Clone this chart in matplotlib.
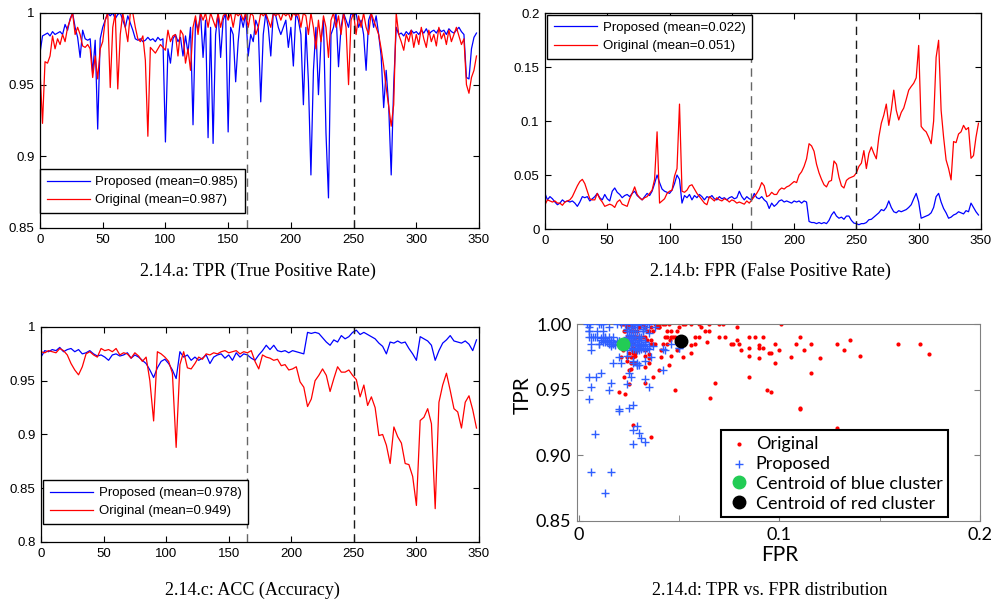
import numpy as np
import matplotlib
matplotlib.use('Agg')
from matplotlib import pyplot as plt
from matplotlib.ticker import FuncFormatter, MultipleLocator

# Frame index of the samples (every 2nd frame for TPR/FPR, every 3rd for ACC)
frames2 = np.arange(0, 349, 2)
frames3 = np.arange(0, 349, 3)

# 2.14.a  TPR
tpr_prop = [0.972, 0.984, 0.985, 0.986, 0.984, 0.987, 0.985, 0.986, 0.987, 0.985,
            0.992, 0.988, 0.996, 1.0, 0.99, 0.983, 0.969, 0.988, 0.982, 0.981,
            0.982, 0.958, 0.981, 0.919, 0.982, 0.99, 0.995, 1.0, 0.998, 1.0,
            0.996, 0.999, 1.0, 0.995, 0.99, 0.998, 0.993, 0.988, 0.982, 0.981,
            0.982, 0.98, 0.981, 0.983, 0.981, 0.982, 0.98, 0.983, 0.981, 0.982,
            0.91, 0.975, 0.965, 0.982, 0.985, 0.98, 0.983, 0.97, 0.984, 0.972,
            0.99, 0.922, 0.995, 0.988, 1.0, 0.969, 0.995, 0.913, 0.99, 0.909,
            0.985, 1.0, 0.969, 0.995, 1.0, 0.917, 0.99, 0.985, 0.952, 0.98,
            0.998, 0.99, 1.0, 0.97, 0.985, 0.98, 0.995, 0.99, 0.938, 0.985,
            1.0, 0.99, 0.97, 1.0, 0.998, 0.99, 0.985, 0.99, 0.995, 0.976,
            0.99, 0.963, 1.0, 0.995, 0.985, 0.936, 0.99, 0.952, 0.887, 0.96,
            0.99, 0.943, 0.98, 0.995, 0.9165, 0.871, 0.985, 0.99, 1.0, 0.9625,
            0.99, 1.0, 0.995, 0.99, 1.0, 0.998, 1.0, 0.99, 0.995, 0.985,
            0.96, 0.995, 1.0, 0.99, 0.998, 0.985, 0.97, 0.934, 0.96, 0.935,
            0.887, 0.95, 0.99, 0.985, 0.986, 0.984, 0.987, 0.985, 0.988, 0.986,
            0.987, 0.985, 0.988, 0.986, 0.989, 0.985, 0.987, 0.988, 0.986, 0.989,
            0.987, 0.988, 0.985, 0.989, 0.987, 0.986, 0.988, 0.99, 0.987, 0.985,
            0.955, 0.954, 0.975, 0.983, 0.986]
tpr_orig = [0.96, 0.923, 0.966, 0.965, 0.97, 0.984, 0.975, 0.982, 0.978, 0.985,
            0.98, 0.99, 0.995, 1.0, 0.985, 0.99, 0.985, 0.977, 0.976, 0.978,
            0.975, 0.955, 0.97, 0.954, 0.975, 0.98, 0.995, 1.0, 0.948, 0.99,
            1.0, 0.947, 0.985, 1.0, 0.99, 0.98, 1.0, 1.0, 0.99, 0.982,
            0.98, 0.984, 0.967, 0.914, 0.976, 0.974, 0.972, 0.975, 0.978, 0.976,
            0.974, 0.988, 0.98, 0.984, 0.985, 0.97, 0.988, 0.985, 0.965, 0.975,
            0.96, 0.99, 0.998, 0.985, 1.0, 0.995, 1.0, 0.99, 1.0, 0.995,
            0.99, 1.0, 0.99, 0.998, 1.0, 0.995, 1.0, 0.99, 1.0, 0.998,
            1.0, 0.995, 1.0, 0.99, 1.0, 0.998, 0.985, 0.99, 1.0, 0.998,
            1.0, 0.995, 0.99, 1.0, 0.998, 1.0, 0.995, 1.0, 0.998, 1.0,
            0.995, 1.0, 0.998, 1.0, 0.99, 1.0, 0.998, 0.985, 1.0, 0.99,
            0.975, 0.995, 0.98, 0.998, 0.99, 0.969, 0.995, 1.0, 0.99, 0.998,
            0.985, 1.0, 0.99, 0.95, 0.995, 1.0, 0.985, 0.998, 0.99, 1.0,
            0.99, 0.985, 1.0, 0.995, 0.99, 0.985, 0.975, 0.963, 0.948, 0.935,
            0.921, 0.936, 1.0, 0.985, 0.98, 0.974, 0.985, 0.98, 0.988, 0.976,
            0.985, 0.978, 0.99, 0.982, 0.976, 0.988, 0.98, 0.985, 0.977, 0.99,
            0.982, 0.986, 0.978, 0.988, 0.98, 0.985, 0.99, 0.984, 0.978, 0.982,
            0.95, 0.944, 0.955, 0.96, 0.97]

# 2.14.b  FPR
fpr_prop = [0.033, 0.027, 0.03, 0.028, 0.025, 0.0225, 0.024, 0.027, 0.025, 0.026,
            0.025, 0.026, 0.024, 0.021, 0.025, 0.03, 0.029, 0.03, 0.026, 0.028,
            0.03, 0.033, 0.029, 0.027, 0.032, 0.028, 0.026, 0.035, 0.038, 0.034,
            0.032, 0.029, 0.031, 0.032, 0.03, 0.033, 0.035, 0.031, 0.029, 0.027,
            0.03, 0.033, 0.031, 0.035, 0.042, 0.05, 0.043, 0.037, 0.035, 0.034,
            0.033, 0.036, 0.042, 0.05, 0.046, 0.024, 0.031, 0.029, 0.032, 0.027,
            0.031, 0.029, 0.032, 0.03, 0.027, 0.03, 0.029, 0.031, 0.028, 0.027,
            0.03, 0.028, 0.029, 0.027, 0.029, 0.03, 0.028, 0.029, 0.035, 0.03,
            0.027, 0.03, 0.028, 0.027, 0.033, 0.029, 0.028, 0.03, 0.027, 0.025,
            0.019, 0.024, 0.021, 0.023, 0.026, 0.027, 0.025, 0.026, 0.025, 0.024,
            0.026, 0.025, 0.026, 0.024, 0.026, 0.025, 0.007, 0.006, 0.006, 0.005,
            0.006, 0.005, 0.006, 0.005, 0.008, 0.013, 0.016, 0.012, 0.01, 0.011,
            0.009, 0.012, 0.012, 0.008, 0.0055, 0.005, 0.004, 0.005, 0.005, 0.006,
            0.0086, 0.009, 0.011, 0.013, 0.015, 0.018, 0.017, 0.02, 0.026, 0.02,
            0.016, 0.015, 0.017, 0.016, 0.017, 0.018, 0.02, 0.0225, 0.028, 0.033,
            0.025, 0.01, 0.011, 0.012, 0.013, 0.015, 0.02, 0.03, 0.033, 0.025,
            0.019, 0.015, 0.01, 0.011, 0.013, 0.014, 0.016, 0.015, 0.014, 0.017,
            0.016, 0.024, 0.02, 0.016, 0.013]
fpr_orig = [0.0225, 0.027, 0.026, 0.025, 0.026, 0.024, 0.024, 0.022, 0.025, 0.026,
            0.027, 0.03, 0.035, 0.04, 0.044, 0.046, 0.042, 0.035, 0.028, 0.027,
            0.027, 0.033, 0.028, 0.025, 0.021, 0.022, 0.023, 0.022, 0.02, 0.025,
            0.027, 0.023, 0.022, 0.021, 0.028, 0.033, 0.039, 0.032, 0.029, 0.027,
            0.029, 0.03, 0.033, 0.036, 0.046, 0.09, 0.024, 0.026, 0.028, 0.033,
            0.035, 0.036, 0.049, 0.056, 0.1157, 0.035, 0.034, 0.036, 0.04, 0.041,
            0.037, 0.033, 0.03, 0.027, 0.024, 0.0225, 0.03, 0.028, 0.026, 0.029,
            0.027, 0.026, 0.028, 0.027, 0.025, 0.027, 0.026, 0.024, 0.025, 0.024,
            0.023, 0.026, 0.024, 0.027, 0.03, 0.033, 0.037, 0.043, 0.04, 0.03,
            0.031, 0.034, 0.032, 0.032, 0.036, 0.038, 0.037, 0.039, 0.04, 0.042,
            0.044, 0.043, 0.05, 0.053, 0.058, 0.065, 0.079, 0.077, 0.072, 0.06,
            0.052, 0.046, 0.041, 0.039, 0.044, 0.045, 0.063, 0.06, 0.048, 0.04,
            0.038, 0.045, 0.047, 0.048, 0.049, 0.052, 0.058, 0.061, 0.0726, 0.056,
            0.07, 0.076, 0.07, 0.065, 0.085, 0.098, 0.1055, 0.1157, 0.096, 0.11,
            0.1286, 0.11, 0.101, 0.108, 0.112, 0.12, 0.1286, 0.132, 0.135, 0.14,
            0.17, 0.095, 0.092, 0.09, 0.085, 0.079, 0.1, 0.159, 0.1748, 0.11,
            0.085, 0.064, 0.056, 0.0455, 0.081, 0.08, 0.088, 0.09, 0.096, 0.092,
            0.094, 0.0655, 0.068, 0.085, 0.098]

# 2.14.c  ACC
acc_prop = [0.972, 0.978, 0.977, 0.979, 0.978, 0.981, 0.977, 0.979, 0.98, 0.977,
            0.979, 0.975, 0.976, 0.978, 0.975, 0.973, 0.974, 0.972, 0.969, 0.974,
            0.975, 0.973, 0.974, 0.976, 0.971, 0.974, 0.972, 0.969, 0.966, 0.96,
            0.953, 0.962, 0.968, 0.97, 0.966, 0.96, 0.952, 0.977, 0.972, 0.974,
            0.969, 0.972, 0.969, 0.971, 0.974, 0.966, 0.972, 0.974, 0.975, 0.971,
            0.974, 0.969, 0.976, 0.972, 0.975, 0.974, 0.971, 0.969, 0.974, 0.978,
            0.983, 0.979, 0.983, 0.978, 0.977, 0.978, 0.976, 0.978, 0.977, 0.976,
            0.975, 0.995, 0.994, 0.995, 0.994, 0.99, 0.986, 0.983, 0.988, 0.986,
            0.992, 0.989, 0.991, 0.995, 0.997, 0.993, 0.995, 0.993, 0.991, 0.989,
            0.985, 0.982, 0.975, 0.986, 0.985, 0.987, 0.985, 0.986, 0.98, 0.975,
            0.969, 0.991, 0.989, 0.987, 0.983, 0.969, 0.978, 0.985, 0.988, 0.992,
            0.987, 0.986, 0.985, 0.987, 0.984, 0.978, 0.988]
acc_orig = [0.977, 0.976, 0.978, 0.977, 0.976, 0.98, 0.978, 0.974, 0.966, 0.96,
            0.9555, 0.963, 0.975, 0.977, 0.974, 0.972, 0.98, 0.978, 0.979, 0.977,
            0.98, 0.974, 0.976, 0.975, 0.971, 0.976, 0.973, 0.968, 0.972, 0.95,
            0.9126, 0.977, 0.975, 0.972, 0.968, 0.957, 0.888, 0.965, 0.977, 0.962,
            0.961, 0.966, 0.972, 0.97, 0.975, 0.974, 0.976, 0.975, 0.977, 0.978,
            0.976, 0.977, 0.978, 0.975, 0.977, 0.976, 0.978, 0.968, 0.961, 0.974,
            0.972, 0.971, 0.969, 0.97, 0.964, 0.965, 0.96, 0.961, 0.963, 0.949,
            0.944, 0.926, 0.933, 0.95, 0.955, 0.961, 0.955, 0.94, 0.952, 0.963,
            0.958, 0.958, 0.96, 0.955, 0.951, 0.935, 0.946, 0.927, 0.935, 0.925,
            0.899, 0.9, 0.89, 0.873, 0.907, 0.898, 0.892, 0.873, 0.872, 0.861,
            0.834, 0.913, 0.916, 0.924, 0.91, 0.831, 0.93, 0.946, 0.957, 0.941,
            0.924, 0.921, 0.906, 0.93, 0.936, 0.923, 0.906]

# Cluster centroids (the means quoted in the legends)
centroid_prop = (0.022, 0.985)
centroid_orig = (0.051, 0.987)

# Frames where the scene changes
change_frames = [165, 250]

blue = '#0000ff'
red = '#ff0000'

plt.rcParams['font.family'] = ['Liberation Sans', 'DejaVu Sans']
fig = plt.figure(figsize=(9.95, 6.07), dpi=100)

fmt = FuncFormatter(lambda v, p: '%g' % round(v, 3))


def series_panel(rect, x, yp, yo, ylim, ystep, mean_p, mean_o, leg_loc, leg_anchor):
	ax = fig.add_axes(rect)
	ax.plot(x, yp, color=blue, lw=0.9, label='Proposed (mean=%s)' % mean_p)
	ax.plot(x, yo, color=red, lw=0.9, label='Original (mean=%s)' % mean_o)
	ax.axvline(change_frames[0], color='0.4', ls=(0, (6, 4)), lw=1)
	ax.axvline(change_frames[1], color='0.1', ls=(0, (6, 4)), lw=1)
	ax.set_xlim(0, 350)
	ax.set_ylim(*ylim)
	ax.xaxis.set_major_locator(MultipleLocator(50))
	ax.yaxis.set_major_locator(MultipleLocator(ystep))
	ax.yaxis.set_major_formatter(fmt)
	ax.tick_params(direction='in', top=True, right=True, length=4, width=0.8,
	               labelsize=9.5, pad=4)
	for s in ax.spines.values():
		s.set_linewidth(0.9)
	leg = ax.legend(loc=leg_loc, bbox_to_anchor=leg_anchor, borderaxespad=0,
	                fontsize=9.5, handlelength=3.3, handletextpad=0.4,
	                fancybox=False, framealpha=1, edgecolor='k', borderpad=0.5,
	                labelspacing=0.45)
	leg.get_frame().set_linewidth(1.0)
	return ax


series_panel([0.0402, 0.6244, 0.4412, 0.3542], frames2, tpr_prop, tpr_orig,
             (0.85, 1.0), 0.05, '0.985', '0.987', 'lower left', (0.0, 0.07))
series_panel([0.5477, 0.6227, 0.4382, 0.3558], frames2, fpr_prop, fpr_orig,
             (0, 0.2), 0.05, '0.022', '0.051', 'upper left', (0.005, 0.99))
series_panel([0.0412, 0.1071, 0.4402, 0.3542], frames3, acc_prop, acc_orig,
             (0.8, 1.0), 0.05, '0.978', '0.949', 'lower left', (0.005, 0.084))

# 2.14.d  TPR vs FPR scatter
axd = fig.add_axes([0.5799, 0.1417, 0.405, 0.3245])
axd.scatter(fpr_orig, tpr_orig, s=9, color=red, marker='o', lw=0, label='Original', zorder=2)
axd.scatter(fpr_prop, tpr_prop, s=30, color='#2f5fff', marker='+', lw=1.0,
            label='Proposed', zorder=3)
axd.plot(*centroid_prop, 'o', color='#22cc55', ms=9, mec='#22cc55',
         label='Centroid of blue cluster', zorder=4)
axd.plot(*centroid_orig, 'o', color='k', ms=9, label='Centroid of red cluster', zorder=4)
axd.set_xlim(-0.001, 0.2)
axd.set_ylim(0.85, 1.0)
axd.xaxis.set_major_locator(MultipleLocator(0.1))
axd.xaxis.set_minor_locator(MultipleLocator(0.05))
axd.yaxis.set_major_locator(MultipleLocator(0.05))
axd.xaxis.set_major_formatter(fmt)
axd.yaxis.set_major_formatter(FuncFormatter(lambda v, p: '%.2f' % v))
axd.tick_params(which='both', direction='in', right=True, length=4, color='0.5',
                labelsize=13, pad=4)
for lab in axd.get_xticklabels() + axd.get_yticklabels():
	lab.set_family('Lato')
for s in axd.spines.values():
	s.set_color('0.5')
axd.set_xlabel('FPR', family='Lato', fontsize=15)
axd.set_ylabel('TPR', family='Lato', fontsize=15)
axd.xaxis.set_label_coords(0.504, -0.12)
axd.yaxis.set_label_coords(-0.11, 0.64)
legd = axd.legend(loc='lower right', bbox_to_anchor=(0.9206, 0.02), borderaxespad=0,
                  prop={'family': 'Lato', 'size': 13}, fancybox=False, framealpha=1,
                  edgecolor='k', handletextpad=0.3, borderpad=0.3, labelspacing=0.22,
                  handlelength=1.3, markerscale=1.0)
legd.get_frame().set_linewidth(1.5)

# Captions
cap = dict(family='Liberation Serif', fontsize=13, ha='center', va='center')
fig.text(0.2593, 0.5535, '2.14.a: TPR (True Positive Rate)', **cap)
fig.text(0.7739, 0.5535, '2.14.b: FPR (False Positive Rate)', **cap)
fig.text(0.2533, 0.028, '2.14.c: ACC (Accuracy)', **cap)
fig.text(0.7739, 0.028, '2.14.d: TPR vs. FPR distribution', **cap)

fig.savefig('out.png', dpi=100)
